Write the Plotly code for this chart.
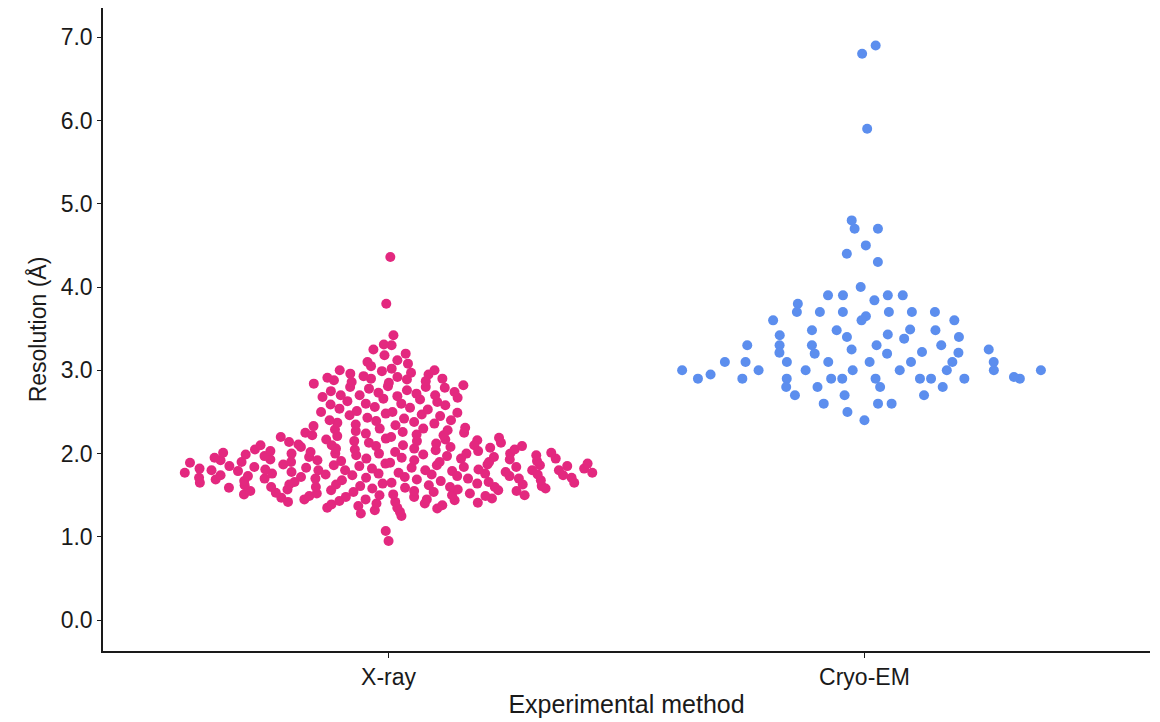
import numpy as np
import plotly.graph_objects as go

categories = ["X-ray", "Cryo-EM"]
category_pos = [1, 2]
colors = ["#E3287F", "#5C8EEE"]
swarm_width = [0.45, 0.40]

xray_resolution = [
    0.95, 1.07,
    1.25, 1.28,
    1.30, 1.32, 1.34, 1.35, 1.35, 1.37, 1.38, 1.39,
    1.40, 1.40, 1.41, 1.42, 1.43, 1.44, 1.45, 1.45, 1.45, 1.46, 1.47, 1.48, 1.48, 1.49, 1.49, 1.42,
    1.50, 1.50, 1.51, 1.51, 1.52, 1.52, 1.53, 1.54, 1.55, 1.55, 1.55, 1.56, 1.56,
    1.57, 1.57, 1.58, 1.58, 1.59, 1.59, 1.50, 1.54,
    1.60, 1.60, 1.60, 1.61, 1.61, 1.62, 1.62, 1.63, 1.63, 1.64, 1.64, 1.65, 1.65, 1.65,
    1.66, 1.66, 1.67, 1.67, 1.68, 1.68, 1.69, 1.69, 1.60, 1.63,
    1.70, 1.70, 1.70, 1.70, 1.71, 1.71, 1.72, 1.72, 1.73, 1.73, 1.74, 1.74, 1.75, 1.75,
    1.75, 1.76, 1.76, 1.77, 1.77, 1.78, 1.78, 1.79, 1.79, 1.74, 1.73, 1.76, 1.71, 1.77,
    1.80, 1.80, 1.80, 1.80, 1.80, 1.81, 1.81, 1.82, 1.82, 1.83, 1.83, 1.84, 1.84, 1.85, 1.85,
    1.85, 1.86, 1.86, 1.87, 1.87, 1.88, 1.88, 1.89, 1.89, 1.80, 1.82, 1.84, 1.86,
    1.90, 1.90, 1.90, 1.90, 1.91, 1.91, 1.92, 1.92, 1.93, 1.93, 1.94, 1.94, 1.95, 1.95,
    1.96, 1.96, 1.97, 1.97, 1.98, 1.98, 1.99, 1.99, 1.92, 1.94,
    2.00, 2.00, 2.00, 2.00, 2.01, 2.02, 2.02, 2.03, 2.04, 2.05, 2.05, 2.05, 2.06, 2.07, 2.08, 2.08,
    2.09, 2.09, 2.00, 2.03, 2.06, 2.01,
    2.10, 2.10, 2.10, 2.11, 2.12, 2.13, 2.14, 2.15, 2.15, 2.16, 2.17, 2.18, 2.19, 2.10, 2.13, 2.17,
    2.20, 2.20, 2.21, 2.22, 2.23, 2.24, 2.25, 2.25, 2.26, 2.27, 2.28, 2.29, 2.22,
    2.30, 2.30, 2.31, 2.33, 2.34, 2.35, 2.36, 2.37, 2.38, 2.39,
    2.40, 2.40, 2.42, 2.43, 2.45, 2.46, 2.47, 2.48, 2.49,
    2.50, 2.50, 2.51, 2.53, 2.54, 2.55, 2.56, 2.58, 2.59,
    2.60, 2.60, 2.62, 2.63, 2.65, 2.66, 2.67, 2.68, 2.69,
    2.70, 2.70, 2.70, 2.72, 2.73, 2.74, 2.75, 2.76, 2.78, 2.79,
    2.80, 2.80, 2.81, 2.82, 2.84, 2.85, 2.86, 2.87, 2.88, 2.89,
    2.90, 2.90, 2.91, 2.92, 2.93, 2.95, 2.96, 2.97, 2.99,
    3.00, 3.00, 3.02, 3.05, 3.08,
    3.10, 3.12, 3.18,
    3.20, 3.25,
    3.30, 3.31,
    3.42,
    3.80, 4.36,
]

cryoem_resolution = [
    4.00, 3.90, 3.90, 3.80, 3.90, 3.84, 3.90, 3.70, 3.70, 3.70, 3.70, 3.70, 3.65, 3.70,
    3.60, 3.60, 3.60, 3.48, 3.48, 3.49, 3.40, 3.43, 3.42, 3.38, 3.48, 3.40,
    3.30, 3.25, 3.30, 3.30, 3.30, 3.30, 3.25, 3.20, 3.20, 3.22, 3.21,
    3.10, 3.10, 3.10, 3.10, 3.10, 3.21, 3.10, 3.10, 3.10,
    3.00, 3.00, 2.90, 2.90, 3.00, 3.00, 2.95, 2.90, 2.90, 2.90, 2.80, 2.80, 2.70,
    2.90, 2.90, 3.00, 2.70, 2.60, 2.40, 2.90, 2.80, 3.00, 3.00, 2.90, 2.92, 3.00,
    2.80, 2.70, 2.90, 2.60, 2.60, 2.50,
    6.90, 6.80, 5.90, 4.80, 4.70, 4.70, 4.50, 4.40, 4.30,
]

y_ticks = [0, 1, 2, 3, 4, 5, 6, 7]


def van_der_corput(n, base=2):
    out = []
    for i in range(1, n + 1):
        v, denom, k = 0.0, 1.0, i
        while k > 0:
            denom *= base
            v += (k % base) / denom
            k //= base
        out.append(v)
    return np.array(out)


def bw_nrd0(y):
    y = np.asarray(y, float)
    sd = y.std(ddof=1)
    q75, q25 = np.percentile(y, [75, 25])
    iqr = (q75 - q25) / 1.34
    lo = min(sd, iqr) if iqr > 0 else sd
    return 0.9 * lo * len(y) ** -0.2


def quasirandom_offsets(y, width=0.44, adjust=0.5):
    y = np.asarray(y, float)
    n = len(y)
    bw = bw_nrd0(y) * adjust
    grid = np.linspace(y.min() - 3 * bw, y.max() + 3 * bw, 512)
    dens_grid = np.exp(-0.5 * ((grid[:, None] - y[None, :]) / bw) ** 2).sum(1)
    dens = np.interp(y, grid, dens_grid) / dens_grid.max()
    ranks = np.argsort(np.argsort(y, kind="stable"), kind="stable")
    return (van_der_corput(n)[ranks] * 2 - 1) * dens * width


fig = go.Figure()
for pos, name, vals, col, w in zip(category_pos, categories,
                                   [xray_resolution, cryoem_resolution], colors, swarm_width):
    off = quasirandom_offsets(vals, width=w)
    fig.add_trace(go.Scatter(
        x=pos + off, y=vals, mode="markers", name=name,
        marker=dict(size=10, color=col, line=dict(width=0)),
        showlegend=False,
    ))

font_family = "Liberation Sans, Arial, sans-serif"
fig.update_layout(
    width=1160, height=722,
    margin=dict(l=103, r=10, t=8, b=69),
    paper_bgcolor="white", plot_bgcolor="white",
    font=dict(family=font_family, color="#1a1a1a"),
    xaxis=dict(
        range=[0.4, 2.6], tickmode="array", tickvals=category_pos, ticktext=categories,
        showline=True, linecolor="#1a1a1a", linewidth=1.5, showgrid=False, zeroline=False,
        ticks="outside", ticklen=5, tickcolor="#1a1a1a", tickwidth=1,
        tickfont=dict(size=23, color="#1a1a1a"),
        title=dict(text="Experimental method", font=dict(size=25, color="#1a1a1a"), standoff=6),
    ),
    yaxis=dict(
        range=[-0.37, 7.35], tickmode="array", tickvals=y_ticks,
        ticktext=[f"{v:.1f}" for v in y_ticks],
        showline=True, linecolor="#1a1a1a", linewidth=1.5, showgrid=False, zeroline=False,
        ticks="outside", ticklen=4, tickcolor="#1a1a1a", tickwidth=1,
        tickfont=dict(size=23, color="#1a1a1a"),
        title=dict(text="Resolution (Å)", font=dict(size=23, color="#1a1a1a"), standoff=8),
    ),
)

fig.write_html("out.html")
